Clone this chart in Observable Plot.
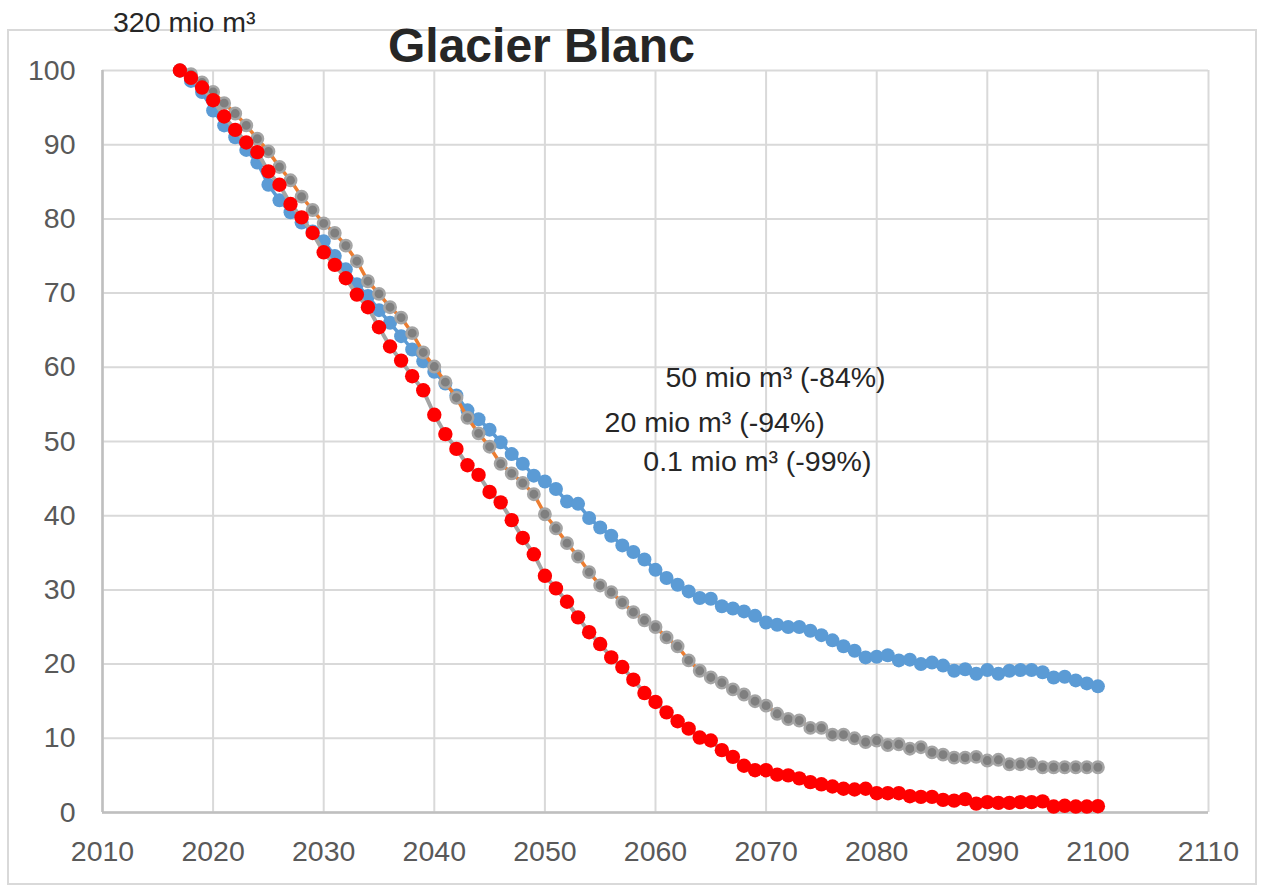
<!DOCTYPE html>
<html>
<head>
<meta charset="utf-8">
<script src="https://cdn.jsdelivr.net/npm/d3@7"></script>
<script src="https://cdn.jsdelivr.net/npm/@observablehq/plot@0.6"></script>
<style>
  html, body { margin: 0; padding: 0; background: #fff; }
  #wrap { position: relative; width: 1261px; height: 887px; overflow: hidden; font-family: "Liberation Sans", Arial, sans-serif; }
  #border { position: absolute; left: 7px; top: 29px; width: 1250px; height: 856px; border: 2px solid #D9D9D9; box-sizing: border-box; }
  #chart { position: absolute; left: 0; top: 0; }
  .lbl { position: absolute; white-space: nowrap; line-height: 1; color: #262626; }
  #title { left: 388px; top: 22px; font-size: 48px; font-weight: bold; }
  #start { left: 113px; top: 8px; font-size: 28.5px; }
</style>
</head>
<body>
<div id="wrap">
  <div id="border"></div>
  <div id="chart"></div>
  <div id="title" class="lbl"></div>
  <div id="start" class="lbl"></div>
</div>
<script>
const titleText = "Glacier Blanc";
const startLabel = "320 mio m³";

const years = [
  2017, 2018, 2019, 2020, 2021, 2022, 2023, 2024, 2025, 2026,
  2027, 2028, 2029, 2030, 2031, 2032, 2033, 2034, 2035, 2036,
  2037, 2038, 2039, 2040, 2041, 2042, 2043, 2044, 2045, 2046,
  2047, 2048, 2049, 2050, 2051, 2052, 2053, 2054, 2055, 2056,
  2057, 2058, 2059, 2060, 2061, 2062, 2063, 2064, 2065, 2066,
  2067, 2068, 2069, 2070, 2071, 2072, 2073, 2074, 2075, 2076,
  2077, 2078, 2079, 2080, 2081, 2082, 2083, 2084, 2085, 2086,
  2087, 2088, 2089, 2090, 2091, 2092, 2093, 2094, 2095, 2096,
  2097, 2098, 2099, 2100
];

// 50 mio m³ scenario (blue)
const blueSeries = [
  100, 98.6, 97.1, 94.6, 92.6, 91.0, 89.3, 87.6, 84.6, 82.5,
  80.9, 79.5, 78.3, 77.0, 75.0, 73.2, 71.2, 69.6, 67.7, 66.0,
  64.2, 62.4, 60.8, 59.4, 57.8, 56.2, 54.2, 53.0, 51.6, 49.9,
  48.3, 47.0, 45.4, 44.6, 43.6, 41.9, 41.6, 39.7, 38.4, 37.3,
  36.0, 35.1, 34.1, 32.7, 31.6, 30.7, 29.8, 28.9, 28.8, 27.8,
  27.5, 27.1, 26.5, 25.6, 25.3, 25.0, 25.0, 24.5, 23.9, 23.2,
  22.4, 21.8, 20.9, 21.0, 21.2, 20.5, 20.6, 20.0, 20.2, 19.8,
  19.1, 19.3, 18.7, 19.2, 18.7, 19.1, 19.2, 19.2, 18.9, 18.2,
  18.3, 17.8, 17.4, 17.0
];

// 20 mio m³ scenario (grey markers, orange line)
const graySeries = [
  100, 99.5, 98.4, 97.1, 95.6, 94.2, 92.6, 90.8, 89.1, 87.0,
  85.2, 83.0, 81.2, 79.4, 78.1, 76.4, 74.3, 71.6, 69.9, 68.1,
  66.7, 64.6, 62.0, 60.1, 58.0, 55.9, 53.2, 51.1, 49.3, 47.0,
  45.7, 44.4, 42.9, 40.2, 38.3, 36.3, 34.5, 32.4, 30.6, 29.7,
  28.3, 27.0, 25.9, 25.0, 23.6, 22.4, 20.5, 19.1, 18.2, 17.5,
  16.6, 15.9, 15.0, 14.4, 13.3, 12.6, 12.4, 11.4, 11.4, 10.5,
  10.5, 10.0, 9.5, 9.7, 9.1, 9.2, 8.6, 8.8, 8.1, 7.8,
  7.4, 7.4, 7.5, 7.0, 7.1, 6.5, 6.5, 6.6, 6.1, 6.1,
  6.1, 6.1, 6.1, 6.1
];

// 0.1 mio m³ scenario (red markers, grey line)
const redSeries = [
  100, 99.0, 97.7, 96.0, 93.8, 92.0, 90.3, 89.0, 86.4, 84.6,
  82.0, 80.2, 78.1, 75.5, 73.8, 72.0, 69.8, 68.1, 65.4, 62.8,
  60.9, 58.8, 56.9, 53.6, 51.0, 49.0, 46.8, 45.5, 43.2, 41.8,
  39.4, 37.0, 34.8, 31.9, 30.2, 28.4, 26.3, 24.3, 22.7, 20.9,
  19.6, 17.9, 16.1, 14.9, 13.5, 12.3, 11.3, 10.1, 9.7, 8.4,
  7.5, 6.3, 5.7, 5.7, 5.1, 5.0, 4.6, 4.1, 3.8, 3.5,
  3.2, 3.1, 3.2, 2.6, 2.6, 2.6, 2.2, 2.1, 2.1, 1.7,
  1.6, 1.8, 1.2, 1.4, 1.3, 1.3, 1.4, 1.4, 1.5, 0.8,
  0.9, 0.8, 0.8, 0.85
];

const xTicks = [2010, 2020, 2030, 2040, 2050, 2060, 2070, 2080, 2090, 2100, 2110];
const yTicks = [0, 10, 20, 30, 40, 50, 60, 70, 80, 90, 100];

const annoLabels = ["50 mio m³ (-84%)", "20 mio m³ (-94%)", "0.1 mio m³ (-99%)"];
const annoYears = [2060.9, 2055.4, 2058.9];
const annoValues = [58.6, 52.5, 47.3];

const toRows = (arr) => years.map((yr, i) => ({year: yr, value: arr[i]}));
const blueRows = toRows(blueSeries);
const grayRows = toRows(graySeries);
const redRows = toRows(redSeries);
const annoRows = annoLabels.map((t, i) => ({text: t, year: annoYears[i], value: annoValues[i]}));

document.getElementById("title").textContent = titleText;
document.getElementById("start").textContent = startLabel;

const chart = Plot.plot({
  width: 1261,
  height: 887,
  marginLeft: 102,
  marginRight: 53,
  marginTop: 70,
  marginBottom: 75,
  style: {fontFamily: "'Liberation Sans', Arial, sans-serif", fontSize: "28px", color: "#595959", background: "transparent", overflow: "visible"},
  x: {domain: [xTicks[0], xTicks[xTicks.length - 1]], ticks: xTicks, tickFormat: d => String(d)},
  y: {domain: [yTicks[0], yTicks[yTicks.length - 1]], ticks: yTicks},
  marks: [
    Plot.gridX(xTicks, {stroke: "#D9D9D9", strokeOpacity: 1, strokeWidth: 2}),
    Plot.gridY(yTicks, {stroke: "#D9D9D9", strokeOpacity: 1, strokeWidth: 2}),
    Plot.ruleX([xTicks[0]], {stroke: "#BFBFBF", strokeWidth: 2.5}),
    Plot.ruleY([yTicks[0]], {stroke: "#BFBFBF", strokeWidth: 2.5}),
    Plot.axisX(xTicks, {tickSize: 0, tickPadding: 28, fontSize: 28.5, label: null, tickFormat: d => String(d)}),
    Plot.axisY(yTicks, {tickSize: 0, tickPadding: 27, fontSize: 28.5, label: null}),
    Plot.line(blueRows, {x: "year", y: "value", stroke: "#5B9BD5", strokeWidth: 3.5}),
    Plot.dot(blueRows, {x: "year", y: "value", r: 7, fill: "#5B9BD5", stroke: "none"}),
    Plot.line(grayRows, {x: "year", y: "value", stroke: "#ED7D31", strokeWidth: 3.5}),
    Plot.dot(grayRows, {x: "year", y: "value", r: 5.7, fill: "#7F7F7F", stroke: "#A5A5A5", strokeWidth: 2.5}),
    Plot.line(redRows, {x: "year", y: "value", stroke: "#A5A5A5", strokeWidth: 4}),
    Plot.dot(redRows, {x: "year", y: "value", r: 7.2, fill: "#FF0000", stroke: "none"}),
    Plot.text(annoRows, {x: "year", y: "value", text: "text", textAnchor: "start", lineAnchor: "middle", fontSize: 28.5, fill: "#262626"})
  ]
});
document.getElementById("chart").appendChild(chart);
</script>
</body>
</html>
